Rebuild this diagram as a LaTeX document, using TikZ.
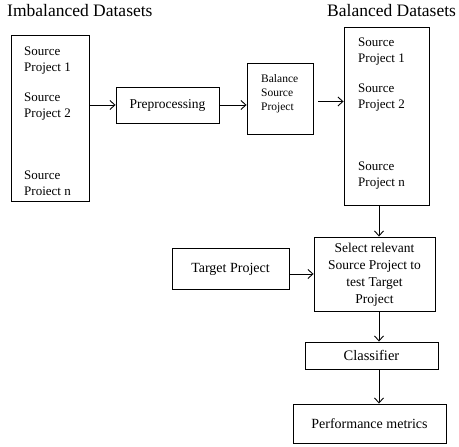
\documentclass[tikz,border=0pt]{standalone}
\usepackage{fontspec}
\setmainfont{Liberation Serif}
\usetikzlibrary{arrows.meta}
\begin{document}
\begin{tikzpicture}[x=1pt,y=1pt,
  box/.style={draw,line width=0.9pt,inner sep=0pt,minimum width=#1},
  txt/.style={inner sep=0pt,align=left,anchor=west,font=\fontsize{13}{16}\selectfont},
  arr/.style={line width=0.9pt,-{Straight Barb[length=5pt,width=9pt,line width=0.9pt]}},
  ttl/.style={inner sep=0pt,anchor=base west,font=\fontsize{17.5}{20}\selectfont}]
\useasboundingbox (0,0) rectangle (459,447);
% titles
\node[ttl] (t1) at (7,430) {Imbalanced Datasets};
\node[ttl] (t2) at (327,430) {Balanced Datasets};
% left box
\node[box=78pt,minimum height=166pt] (L) at (50,329) {};
\node[txt] (l1) at (24,386.5) {Source\\Project 1};
\node[txt] (l2) at (24,340) {Source\\Project 2};
\node[txt] (l3) at (24,263.5) {Source\\Proiect n};
% preprocessing
\node[box=103pt,minimum height=36pt,font=\fontsize{13.5}{16}\selectfont] (P) at (167.5,342) {Preprocessing};
% balance
\node[box=66pt,minimum height=71pt] (B) at (280,348.5) {};
\node[txt,font=\fontsize{11.5}{14}\selectfont] (bt) at (261,353) {Balance\\Source\\Project};
% right box
\node[box=85pt,minimum height=178pt] (R) at (386.5,331) {};
\node[txt] (r1) at (358,395.5) {Source\\Project 1};
\node[txt] (r2) at (358,349) {Source\\Project 2};
\node[txt] (r3) at (358,271.5) {Source\\Project n};
% select
\node[box=121pt,minimum height=74pt] (S) at (374.5,173) {};
\node[inner sep=0pt,align=center,font=\fontsize{13.5}{17}\selectfont] (st) at (374.5,172.5) {Select relevant\\Source Project to\\test Target\\Project};
% target
\node[box=117pt,minimum height=41pt,font=\fontsize{14}{16}\selectfont] (T) at (230.5,178) {Target Project};
% classifier
\node[box=133pt,minimum height=27pt,font=\fontsize{14.5}{16}\selectfont] (C) at (371.5,91.5) {Classifier};
% performance
\node[box=153pt,minimum height=39pt,font=\fontsize{14}{16}\selectfont] (M) at (369.5,23.5) {Performance metrics};
% connectors
\coordinate (ax) at (379,0);
\coordinate (bs) at ([xshift=5pt,yshift=-3pt]B.east);
\draw[arr] (L.east |- P.west) -- (P.west);
\draw[arr] (P.east) -- (B.west |- P.east);
\draw[arr] (bs) -- (R.west |- bs);
\draw[arr] (R.south -| ax) -- (S.north -| ax);
\draw[arr] (T.east |- S.west) -- (S.west);
\draw[arr] (S.south -| ax) -- (C.north -| ax);
\draw[arr] (C.south -| ax) -- (M.north -| ax);
\end{tikzpicture}
\end{document}
